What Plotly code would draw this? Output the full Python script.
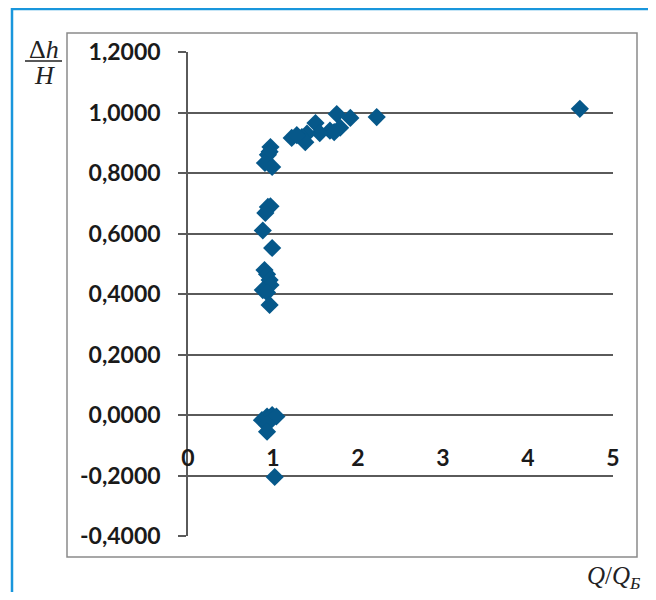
import plotly.graph_objects as go

# ---- data ----
q_ratio = [4.61, 2.22, 1.91, 1.75, 1.79, 1.67, 1.72, 1.50, 1.55, 1.40, 1.34, 1.22, 1.38, 1.28,
           0.97, 0.96, 0.94, 0.905, 0.99,
           0.97, 0.94, 0.91, 0.88,
           0.99,
           0.90, 0.93, 0.96, 0.97, 0.88, 0.93, 0.96,
           0.87, 0.93, 0.99, 1.04, 0.93, 0.93,
           1.02]
dh_ratio = [1.012, 0.985, 0.982, 0.995, 0.950, 0.940, 0.935, 0.965, 0.932, 0.930, 0.919, 0.916, 0.902, 0.925,
            0.886, 0.870, 0.860, 0.833, 0.820,
            0.690, 0.688, 0.668, 0.610,
            0.552,
            0.479, 0.465, 0.446, 0.430, 0.413, 0.405, 0.364,
            -0.017, -0.005, 0.000, -0.005, -0.030, -0.055,
            -0.205]

y_ticks = [-0.4, -0.2, 0.0, 0.2, 0.4, 0.6, 0.8, 1.0, 1.2]
y_ticktext = ["-0,4000", "-0,2000", "0,0000", "0,2000", "0,4000", "0,6000", "0,8000", "1,0000", "1,2000"]
x_ticks = [0, 1, 2, 3, 4, 5]
x_ticktext = ["0", "1", "2", "3", "4", "5"]

# ---- layout geometry (screen pixels; page body has an 8px margin) ----
OFF = 8
W, H = 656 - 2 * OFF, 600 - 2 * OFF
L, R, T, B = 188, 613, 52, 536

def px(x):
    return (x - L) / (R - L)

def py(y):
    return (B - y) / (B - T)

fig = go.Figure()
fig.add_trace(go.Scatter(
    x=q_ratio, y=dh_ratio, mode="markers",
    marker=dict(symbol="diamond", size=14, color="#06588a", line=dict(width=0)),
    showlegend=False, cliponaxis=False,
))

tickfont = dict(family="Lato, Carlito, Arial", size=23, color="#1a1a1a", weight="bold")

fig.update_layout(
    width=W, height=H,
    margin=dict(l=L - OFF, r=(W + OFF) - R, t=T - OFF, b=(H + OFF) - B),
    paper_bgcolor="white", plot_bgcolor="white",
    xaxis=dict(range=[0, 5], tickvals=x_ticks, ticktext=x_ticktext,
               showgrid=False, zeroline=False, showline=False,
               anchor="free", position=0.25, ticks="",
               ticklabelstandoff=27, tickfont=tickfont),
    yaxis=dict(range=[-0.4, 1.2], tickvals=y_ticks, ticktext=y_ticktext,
               showgrid=True, gridcolor="#5a5a5a", gridwidth=1.5,
               zeroline=False, showline=True, linecolor="#5a5a5a", linewidth=1.5,
               ticks="outside", ticklen=8, tickcolor="#5a5a5a", tickwidth=1.5,
               ticklabelstandoff=13, tickfont=tickfont),
    shapes=[
        dict(type="rect", xref="paper", yref="paper",
             x0=px(67), x1=px(637), y0=py(557), y1=py(33),
             line=dict(color="#8a8a8a", width=1.5), layer="below"),
        dict(type="rect", xref="paper", yref="paper",
             x0=px(12), x1=px(655), y0=py(640), y1=py(9),
             line=dict(color="#1996dc", width=2.5), layer="below"),
        dict(type="line", xref="paper", yref="paper",
             x0=px(25), x1=px(62), y0=py(61), y1=py(61),
             line=dict(color="#222222", width=1.5)),
    ],
    annotations=[
        dict(xref="paper", yref="paper", x=px(44), y=py(50), text="Δ<i>h</i>",
             showarrow=False, xanchor="center", yanchor="middle",
             font=dict(family="Liberation Serif", size=26, color="#222222")),
        dict(xref="paper", yref="paper", x=px(44), y=py(75), text="<i>H</i>",
             showarrow=False, xanchor="center", yanchor="middle",
             font=dict(family="Liberation Serif", size=26, color="#222222")),
        dict(xref="paper", yref="paper", x=px(613), y=py(577),
             text="<i>Q</i>/<i>Q</i><sub><i>Б</i></sub>",
             showarrow=False, xanchor="center", yanchor="middle",
             font=dict(family="Liberation Serif", size=25, color="#222222")),
    ],
)

fig.write_html("out.html")
